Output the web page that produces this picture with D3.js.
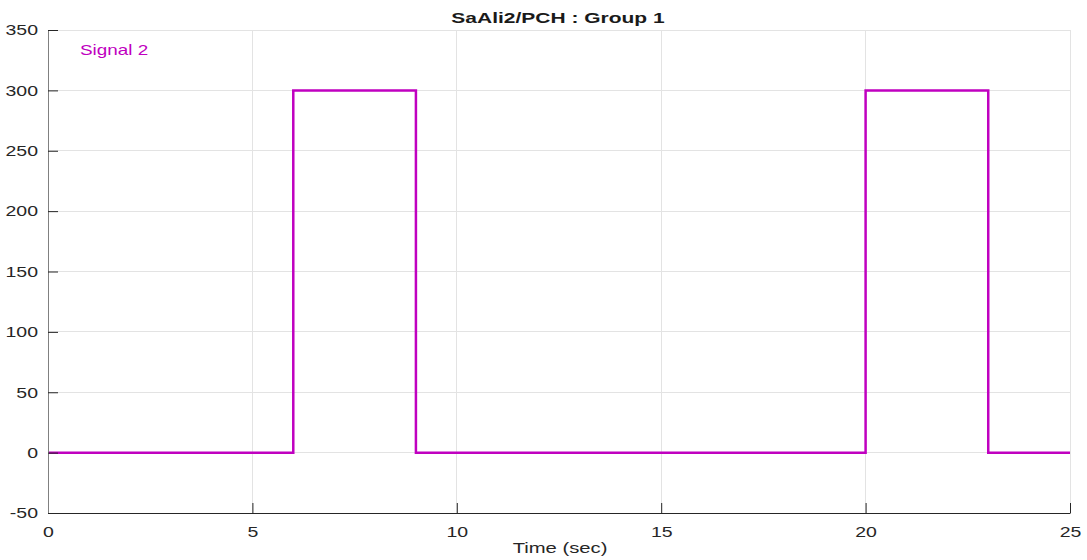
<!DOCTYPE html>
<html><head><meta charset="utf-8">
<script src="https://cdn.jsdelivr.net/npm/d3@7"></script>
<style>
body{margin:0;background:#fff;}
text{font-family:"Liberation Sans",Arial,Helvetica,sans-serif;}
</style></head>
<body><svg id="c" width="1087" height="560"></svg>
<script>
const title = "SaAli2/PCH : Group 1";
const xLabel = "Time (sec)";
const seriesName = "Signal 2";
const times  = [0, 6, 6, 9, 9, 20, 20, 23, 23, 25];
const values = [0, 0, 300, 300, 0, 0, 300, 300, 0, 0];
const xTicks = [0, 5, 10, 15, 20, 25];
const yTicks = [-50, 0, 50, 100, 150, 200, 250, 300, 350];

const svg = d3.select("#c");
const m = {l:48, r:1070, t:30, b:513};
const x = d3.scaleLinear().domain([0,25]).range([m.l, m.r]);
const y = d3.scaleLinear().domain([-50,350]).range([m.b, m.t]);
const grid = "#e3e3e3";
const col = "#c000c0";
const SX = 1.3;

// grid
svg.append("g").selectAll("line").data(xTicks).join("line")
  .attr("x1", d=>x(d)).attr("x2", d=>x(d)).attr("y1", m.t).attr("y2", m.b)
  .attr("stroke", grid).attr("stroke-width",1).attr("shape-rendering","crispEdges");
svg.append("g").selectAll("line").data(yTicks).join("line")
  .attr("x1", m.l).attr("x2", m.r).attr("y1", d=>y(d)).attr("y2", d=>y(d))
  .attr("stroke", grid).attr("stroke-width",1).attr("shape-rendering","crispEdges");

// line
const line = d3.line().x((d,i)=>x(times[i])).y(d=>y(d));
svg.append("path").datum(values).attr("d", line)
  .attr("fill","none").attr("stroke", col).attr("stroke-width", 2.5)
  .attr("stroke-linejoin","miter");

// axes
const xa = svg.append("g").attr("transform",`translate(0,${m.b})`)
  .call(d3.axisBottom(x).tickValues(xTicks).tickSizeInner(-10).tickSizeOuter(0).tickPadding(13).tickFormat(d3.format("d")));
xa.select(".domain").attr("stroke","#262626");
xa.selectAll(".tick line").attr("stroke","#262626");
xa.selectAll("text").attr("font-size",15).attr("fill","#262626").attr("transform",`scale(${SX},1)`);

const ya = svg.append("g").attr("transform",`translate(${m.l},0)`)
  .call(d3.axisLeft(y).tickValues(yTicks).tickSizeInner(-10).tickSizeOuter(0).tickPadding(10).tickFormat(d3.format("d")));
ya.select(".domain").attr("stroke","#808080");
ya.selectAll(".tick line").attr("stroke","#262626");
ya.selectAll("text").attr("font-size",15).attr("fill","#262626")
  .attr("x", -10/SX).attr("transform",`scale(${SX},1)`)
  .text(d=> d<0 ? "-"+Math.abs(d) : d);

function stretched(xc, yc, s, anchor){
  return svg.append("text").attr("transform",`translate(${xc},${yc}) scale(${s},1)`)
    .attr("text-anchor", anchor);
}
// title & labels
stretched((m.l+m.r)/2 - 1, 23, 1.4, "middle")
  .attr("font-size",15).attr("font-weight","bold").attr("fill","#1a1a1a").text(title);
stretched((m.l+m.r)/2 + 1, 553, 1.35, "middle")
  .attr("font-size",15).attr("fill","#262626").text(xLabel);
stretched(80, 55, 1.35, "start").attr("font-size",14).attr("fill",col).text(seriesName);
</script></body></html>
